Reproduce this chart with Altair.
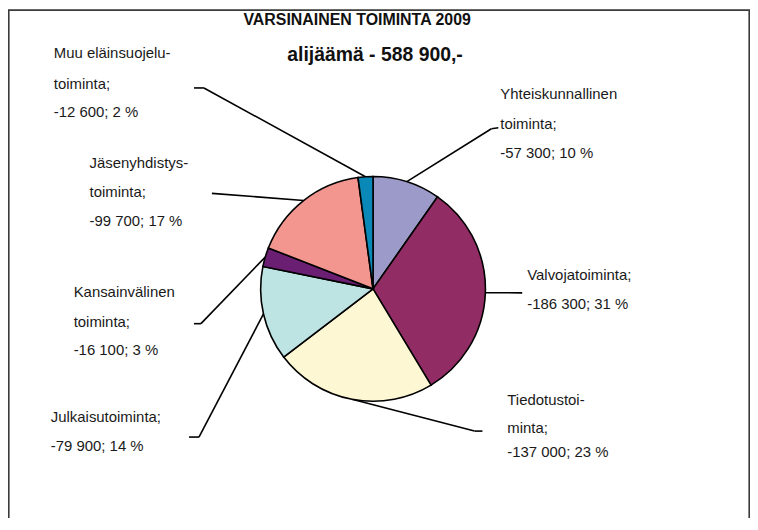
import altair as alt
import pandas as pd

# ---------------- data ----------------
categories = [
    "Yhteiskunnallinen toiminta",
    "Valvojatoiminta",
    "Tiedotustoiminta",
    "Julkaisutoiminta",
    "Kansainvälinen toiminta",
    "Jäsenyhdistystoiminta",
    "Muu eläinsuojelutoiminta",
]
values = [57300, 186300, 137000, 79900, 16100, 99700, 12600]
percents = [10, 31, 23, 14, 3, 17, 2]
value_texts = ["-57 300", "-186 300", "-137 000", "-79 900", "-16 100", "-99 700", "-12 600"]
name_lines = [
    ["Yhteiskunnallinen", "toiminta;"],
    ["Valvojatoiminta;"],
    ["Tiedotustoi-", "minta;"],
    ["Julkaisutoiminta;"],
    ["Kansainvälinen", "toiminta;"],
    ["Jäsenyhdistys-", "toiminta;"],
    ["Muu eläinsuojelu-", "toiminta;"],
]
title_lines = ["VARSINAINEN TOIMINTA 2009", "alijäämä - 588 900,-"]

# ---------------- style / layout ----------------
colors = ["#9C9AC8", "#922C65", "#FDF7D3", "#BDE3E2", "#6B1F73", "#F2968F", "#0A88B8"]
OFF = 8  # page margin
W, H = 746, 510
CX, CY, R = 375 - OFF, 289 - OFF, 113
FONT = "Liberation Sans"

# label text positions (page coords): left x, centre y of each line
label_x = [503, 530, 510, 51, 74, 90, 54]
label_y = [[93, 123, 152], [275, 304], [401, 429, 453], [418, 447],
           [292, 322, 350], [162, 192, 221], [52, 83, 111]]
# leader line elbow and end (page coords)
elbow = [(494, 128), (525, 293), (477, 432), (200, 438), (202, 324), (213, 193), (205, 87)]
end = [(501, 127), (525, 293), (485, 432), (190, 438), (195, 324), (213, 193), (195, 87)]

# ---------------- tables ----------------
pie_df = pd.DataFrame({"idx": list(range(len(values))), "category": categories, "value": values})

lead_df = pd.DataFrame({
    "idx": list(range(len(values))),
    "value": values,
    "ex": [e[0] - OFF for e in elbow],
    "ey": [e[1] - OFF for e in elbow],
    "tx": [e[0] - OFF for e in end],
    "ty": [e[1] - OFF for e in end],
})

rows = []
for i in range(len(values)):
    lines = name_lines[i] + [f"{value_texts[i]}; {percents[i]} %"]
    for j, t in enumerate(lines):
        rows.append({"text": t, "x": label_x[i] - OFF, "y": label_y[i][j] - OFF})
text_df = pd.DataFrame(rows)

title_df = pd.DataFrame({"text": title_lines,
                         "x": [359 - OFF, 377 - OFF],
                         "y": [19 - OFF, 54 - OFF],
                         "size": [16, 19.5]})

# ---------------- layers ----------------
frame = alt.Chart(alt.Data(values=[{}])).mark_rect(
    fill="transparent", stroke="#3a3a3a", strokeWidth=1.6
).encode(x=alt.value(0.8), x2=alt.value(W - 0.8), y=alt.value(0.8), y2=alt.value(H + 20))

arc = alt.Chart(pie_df).mark_arc(radius=R, stroke="black", strokeWidth=1.6).encode(
    theta=alt.Theta("value:Q", stack=True),
    order=alt.Order("idx:Q"),
    color=alt.Color("category:N", scale=alt.Scale(domain=categories, range=colors), legend=None),
    x=alt.value(CX),
    y=alt.value(CY),
)

lead_base = alt.Chart(lead_df).transform_joinaggregate(
    total="sum(value)"
).transform_window(
    cum="sum(value)", sort=[alt.SortField("idx")]
).transform_calculate(
    mid="(datum.cum - datum.value / 2) / datum.total * 2 * PI",
).transform_calculate(
    px=f"{CX} + {R} * sin(datum.mid)",
    py=f"{CY} - {R} * cos(datum.mid)",
)

lead1 = lead_base.mark_rule(color="black", strokeWidth=1.6).encode(
    x=alt.X("px:Q", scale=None), y=alt.Y("py:Q", scale=None),
    x2="ex:Q", y2="ey:Q",
)
lead2 = lead_base.mark_rule(color="black", strokeWidth=1.6).encode(
    x=alt.X("ex:Q", scale=None), y=alt.Y("ey:Q", scale=None),
    x2="tx:Q", y2="ty:Q",
)

labels = alt.Chart(text_df).mark_text(
    align="left", baseline="middle", font=FONT, fontSize=15, color="#1a1a1a"
).encode(x=alt.X("x:Q", scale=None), y=alt.Y("y:Q", scale=None), text="text:N")

titles = alt.Chart(title_df).mark_text(
    align="center", baseline="middle", font=FONT, fontWeight="bold", color="#111111"
).encode(
    x=alt.X("x:Q", scale=None), y=alt.Y("y:Q", scale=None), text="text:N",
    size=alt.Size("size:Q", scale=None),
)

chart = alt.layer(frame, lead1, lead2, arc, labels, titles).properties(
    width=W, height=H, autosize="none", padding=0
).configure_view(stroke=None)

chart.save("out.html", embed_options={"renderer": "svg", "actions": False})
